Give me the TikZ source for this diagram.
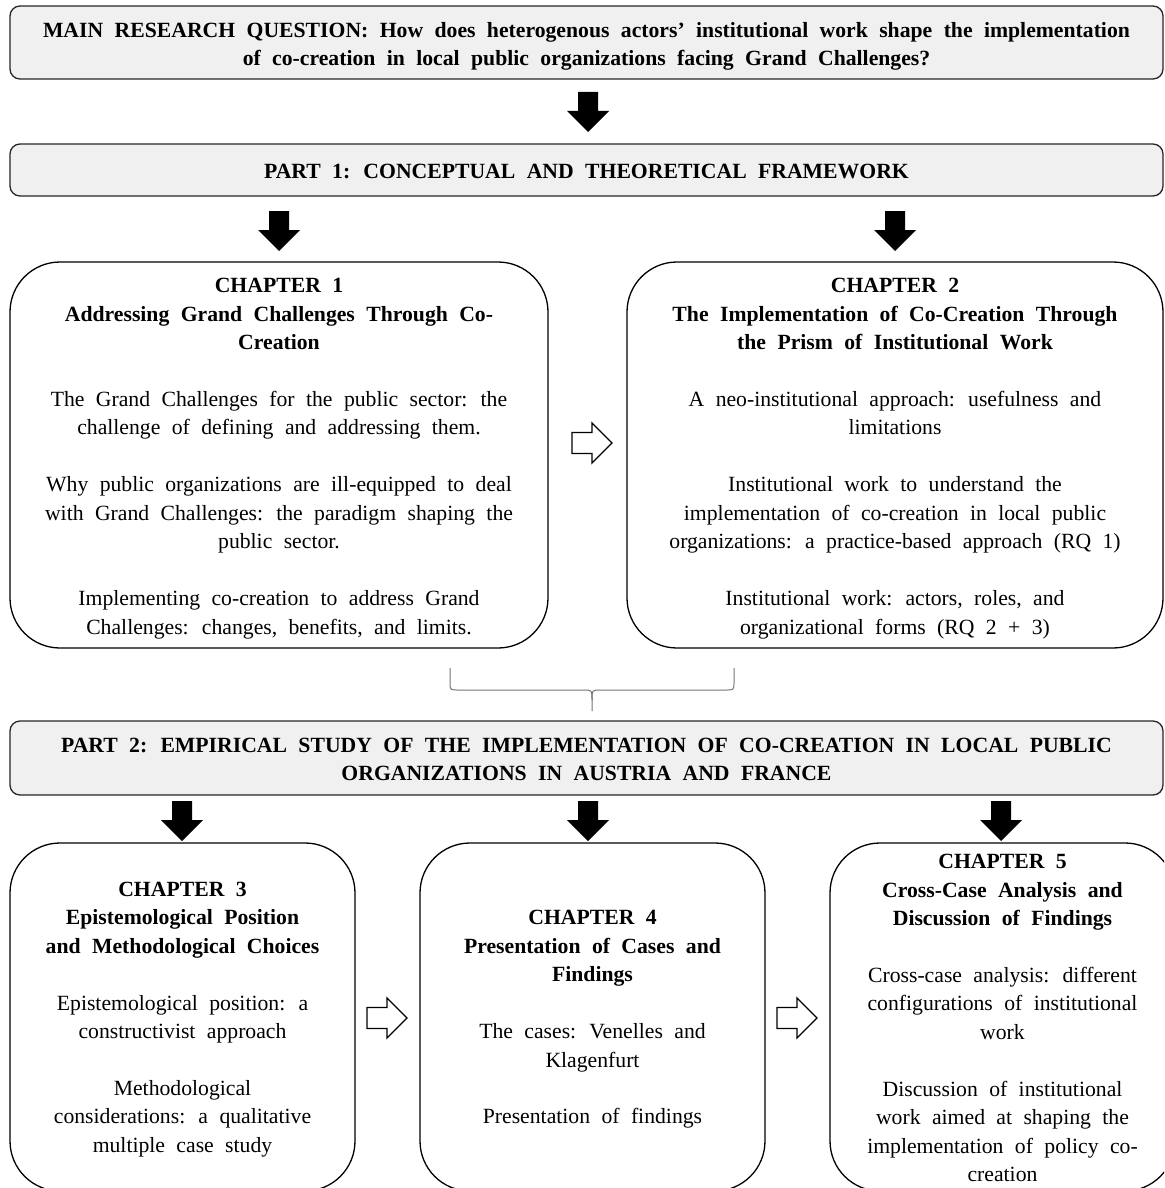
\documentclass[tikz,border=0pt]{standalone}
\usepackage{fontspec}
\setmainfont[WordSpace=2.1]{Liberation Serif}
\tikzset{
  downarr/.pic={\fill[black] (-10,0) -- (10,0) -- (10,19) -- (21,19) -- (0,40) -- (-21,19) -- (-10,19) -- cycle;},
  rightarr/.pic={\draw[line width=1.3pt, fill=white, line join=miter] (0,-10.5) -- (20,-10.5) -- (20,-20) -- (40,0) -- (20,20) -- (20,10.5) -- (0,10.5) -- cycle;}
}
\begin{document}
\begin{tikzpicture}[x=1pt,y=-1pt,
  every node/.style={font=\fontsize{21.7}{28.5}\selectfont, inner sep=0pt},
  graybox/.style={draw=black!85, line width=1.3pt, fill=black!6, rounded corners=10pt, minimum width=1153pt},
  chapbox/.style={draw=black, line width=1.3pt, rounded corners=50pt},
  txt/.style={align=center}
]
\useasboundingbox (0,0) rectangle (1164,1188);
\clip (0,0) rectangle (1164,1188);

% boxes
\node[graybox, minimum height=73pt] (rqbox) at (586.5,42.5) {};
\node[graybox, minimum height=52pt] (p1box) at (586.5,170) {};
\node[chapbox, minimum width=538pt, minimum height=386pt] (c1box) at (279,455) {};
\node[chapbox, minimum width=536pt, minimum height=386pt] (c2box) at (895,455) {};
\node[graybox, minimum height=74pt] (p2box) at (586.5,758) {};
\node[chapbox, minimum width=345pt, minimum height=348pt] (c3box) at (182.5,1017) {};
\node[chapbox, minimum width=345pt, minimum height=348pt] (c4box) at (592.5,1017) {};
\node[chapbox, minimum width=345pt, minimum height=348pt] (c5box) at (1002.5,1017) {};

% texts
\node[txt] (rq) at ([yshift=-4pt]rqbox.center)
  {\textbf{MAIN RESEARCH QUESTION: How does heterogenous actors’ institutional work shape the implementation}\\
   \textbf{of co-creation in local public organizations facing Grand Challenges?}};

\node[txt] (p1) at ([yshift=-1pt]p1box.center)
  {\textbf{PART 1: CONCEPTUAL AND THEORETICAL FRAMEWORK}};

\node[txt] (c1) at ([yshift=-3.5pt]c1box.center)
  {\textbf{CHAPTER 1}\\
   \textbf{Addressing Grand Challenges Through Co-}\\
   \textbf{Creation}\\[28.3pt]
   The Grand Challenges for the public sector: the\\
   challenge of defining and addressing them.\\[28.3pt]
   Why public organizations are ill-equipped to deal\\
   with Grand Challenges: the paradigm shaping the\\
   public sector.\\[28.3pt]
   Implementing co-creation to address Grand\\
   Challenges: changes, benefits, and limits.};

\node[txt] (c2) at ([yshift=-3.5pt]c2box.center)
  {\textbf{CHAPTER 2}\\
   \textbf{The Implementation of Co-Creation Through}\\
   \textbf{the Prism of Institutional Work}\\[28.3pt]
   A neo-institutional approach: usefulness and\\
   limitations\\[28.3pt]
   Institutional work to understand the\\
   implementation of co-creation in local public\\
   organizations: a practice-based approach (RQ 1)\\[28.3pt]
   Institutional work: actors, roles, and\\
   organizational forms (RQ 2 + 3)};

\node[txt] (p2) at ([yshift=-1.5pt]p2box.center)
  {\textbf{PART 2: EMPIRICAL STUDY OF THE IMPLEMENTATION OF CO-CREATION IN LOCAL PUBLIC}\\
   \textbf{ORGANIZATIONS IN AUSTRIA AND FRANCE}};

\node[txt] (c3) at ([yshift=-2.5pt]c3box.center)
  {\textbf{CHAPTER 3}\\
   \textbf{Epistemological Position}\\
   \textbf{and Methodological Choices}\\[28.3pt]
   Epistemological position: a\\
   constructivist approach\\[28.3pt]
   Methodological\\
   considerations: a qualitative\\
   multiple case study};

\node[txt] (c4) at ([yshift=-2.5pt]c4box.center)
  {\textbf{CHAPTER 4}\\
   \textbf{Presentation of Cases and}\\
   \textbf{Findings}\\[28.3pt]
   The cases: Venelles and\\
   Klagenfurt\\[28.3pt]
   Presentation of findings};

\node[txt] (c5) at ([yshift=-1pt]c5box.center)
  {\textbf{CHAPTER 5}\\
   \textbf{Cross-Case Analysis and}\\
   \textbf{Discussion of Findings}\\[28.3pt]
   Cross-case analysis: different\\
   configurations of institutional\\
   work\\[28.3pt]
   Discussion of institutional\\
   work aimed at shaping the\\
   implementation of policy co-\\
   creation};

% block arrows
\pic at (588,92) {downarr};
\pic at (279,211) {downarr};
\pic at (895,211) {downarr};
\pic at (182,801) {downarr};
\pic at (588,801) {downarr};
\pic at (1001,801) {downarr};
\pic at (572,443) {rightarr};
\pic at (367,1018) {rightarr};
\pic at (777,1018) {rightarr};

% brace
\draw[black!55, line width=1pt]
  (450,668) -- (450,682) .. controls (450,690) .. (458,690) -- (584,690)
  .. controls (592,690) .. (592,700) -- (592,711);
\draw[black!55, line width=1pt]
  (734,668) -- (734,682) .. controls (734,690) .. (726,690) -- (600,690)
  .. controls (592,690) .. (592,700);
\end{tikzpicture}
\end{document}
